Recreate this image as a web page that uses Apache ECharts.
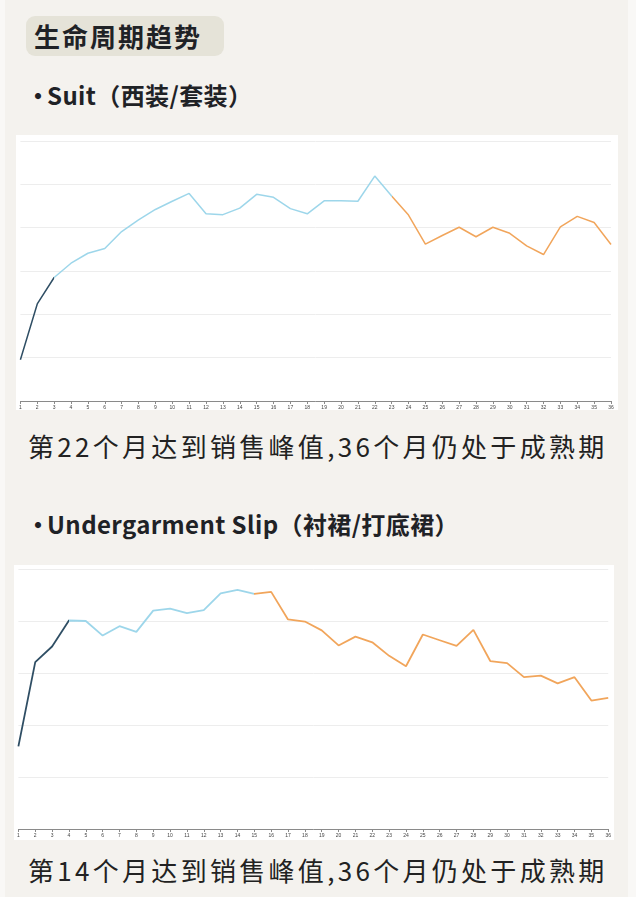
<!DOCTYPE html>
<html>
<head>
<meta charset="utf-8">
<title>生命周期趋势</title>
<script src="https://cdn.jsdelivr.net/npm/echarts@6/dist/echarts.min.js"></script>
<style>
    html, body { margin: 0; padding: 0; }
    body {
        width: 636px; height: 897px; position: relative; overflow: hidden;
        background: #f9f8f6;
        font-family: "Noto Sans CJK SC", "Noto Sans", sans-serif;
        color: #1f2226;
    }
    .panel { position: absolute; left: 5px; top: 0; width: 623px; height: 897px; background: #f4f2ee; }
    .badge {
        position: absolute; left: 26px; top: 16px; width: 198px; height: 40px;
        background: #e5e3d8; border-radius: 9px;
        font-size: 26px; font-weight: 700; line-height: 40px;
        padding-left: 8px; box-sizing: border-box; letter-spacing: 2px;
    }
    .head { position: absolute; left: 26px; font-size: 24px; font-weight: 700; line-height: 30px; letter-spacing: 0.4px; }
    .head .dot { letter-spacing: -3px; }
    .cap { position: absolute; left: 28px; font-size: 26px; line-height: 32px; letter-spacing: 3.3px; color: #222; }
    .card { position: absolute; background: #ffffff; }
</style>
</head>
<body>
<div class="panel"></div>
<div class="badge">生命周期趋势</div>
<div class="head" style="top:80px;"><span class="dot">•</span>Suit（西装/套装）</div>
<div class="card" id="suit" style="left:16px;top:135px;width:602px;height:275px;"></div>
<div class="cap" style="top:430px;">第22个月达到销售峰值,36个月仍处于成熟期</div>
<div class="head" style="top:509px;"><span class="dot">•</span>Undergarment Slip（衬裙/打底裙）</div>
<div class="card" id="slip" style="left:14px;top:565px;width:600px;height:275px;"></div>
<div class="cap" style="top:854px;">第14个月达到销售峰值,36个月仍处于成熟期</div>

<script type="text/javascript">
    var months = [];
    for (var m = 1; m <= 36; m++) months.push(String(m));

    var suitSales = [9.5, 22.4, 28.5, 31.8, 34.1, 35.2, 39.1, 41.8, 44.2, 46.1, 47.9, 43.2,
        43.0, 44.5, 47.7, 47.0, 44.4, 43.2, 46.2, 46.2, 46.1, 51.9, 47.3, 42.9,
        36.2, 38.2, 40.1, 37.9, 40.1, 38.7, 35.8, 33.8, 40.2, 42.6, 41.2, 36.1];

    var slipSales = [15.9, 32.1, 35.1, 40.1, 40.0, 37.2, 39.0, 37.9, 42.0, 42.4, 41.5, 42.1,
        45.3, 46.0, 45.2, 45.6, 40.3, 39.9, 38.2, 35.3, 37.0, 35.9, 33.3, 31.3,
        37.4, 36.3, 35.2, 38.3, 32.3, 31.9, 29.2, 29.5, 28.0, 29.2, 24.7, 25.2];

    // stage boundaries (category index where colour switches)
    var suitStages = [2.36, 22];
    var slipStages = [3, 14];

    var DARK = '#2f4e64', BLUE = '#9dd6ea', ORANGE = '#f1a55b';

    function makeChart(id, data, stages, grid, yMax, width) {
        var chart = echarts.init(document.getElementById(id));
        chart.setOption({
            animation: false,
            grid: grid,
            xAxis: {
                type: 'category',
                data: months,
                boundaryGap: false,
                axisLine: { lineStyle: { color: '#8a8a8a', width: 1 } },
                axisTick: { length: 3, lineStyle: { color: '#8a8a8a' } },
                axisLabel: { fontSize: 5, color: '#444', margin: 4, interval: 0 }
            },
            yAxis: {
                type: 'value',
                min: 0,
                max: yMax,
                interval: 10,
                axisLabel: { show: false },
                axisLine: { show: false },
                axisTick: { show: false },
                splitLine: { lineStyle: { color: '#ededed', width: 1 } }
            },
            visualMap: {
                show: false,
                type: 'piecewise',
                dimension: 0,
                seriesIndex: 0,
                pieces: [
                    { lt: stages[0], color: DARK },
                    { gte: stages[0], lt: stages[1], color: BLUE },
                    { gte: stages[1], color: ORANGE }
                ]
            },
            series: [{
                type: 'line',
                data: data,
                symbol: 'none',
                lineStyle: { width: width }
            }]
        });
        return chart;
    }

    makeChart('suit', suitSales, suitStages, { left: 3, right: 7, top: 6, bottom: 9 }, 60, 1.5);
    makeChart('slip', slipSales, slipStages, { left: 2, right: 5, top: 4, bottom: 11 }, 50, 1.8);
</script>
</body>
</html>
